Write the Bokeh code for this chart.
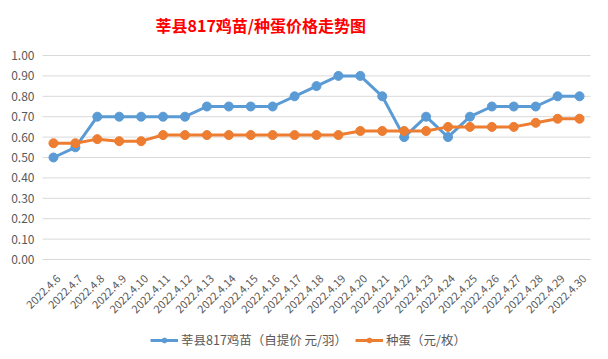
import math
from bokeh.plotting import figure
from bokeh.models import Range1d, Legend, LegendItem, ColumnDataSource
from bokeh.core.properties import value
from bokeh.embed import file_html
from bokeh.resources import INLINE

dates = ["2022.4.6", "2022.4.7", "2022.4.8", "2022.4.9", "2022.4.10", "2022.4.11", "2022.4.12",
         "2022.4.13", "2022.4.14", "2022.4.15", "2022.4.16", "2022.4.17", "2022.4.18", "2022.4.19",
         "2022.4.20", "2022.4.21", "2022.4.22", "2022.4.23", "2022.4.24", "2022.4.25", "2022.4.26",
         "2022.4.27", "2022.4.28", "2022.4.29", "2022.4.30"]
chick = [0.50, 0.55, 0.70, 0.70, 0.70, 0.70, 0.70, 0.75, 0.75, 0.75, 0.75, 0.80, 0.85, 0.90,
         0.90, 0.80, 0.60, 0.70, 0.60, 0.70, 0.75, 0.75, 0.75, 0.80, 0.80]
egg = [0.57, 0.57, 0.59, 0.58, 0.58, 0.61, 0.61, 0.61, 0.61, 0.61, 0.61, 0.61, 0.61, 0.61,
       0.63, 0.63, 0.63, 0.63, 0.65, 0.65, 0.65, 0.65, 0.67, 0.69, 0.69]
y_ticks = [0.0, 0.1, 0.2, 0.3, 0.4, 0.5, 0.6, 0.7, 0.8, 0.9, 1.0]
title_text = "莘县817鸡苗/种蛋价格走势图"
name_chick = "莘县817鸡苗（自提价 元/羽）"
name_egg = "种蛋（元/枚）"

BLUE = "#5B9BD5"
ORANGE = "#ED7D31"
GRAY = "#595959"
GRID = "#D9D9D9"
FONT = "Noto Sans CJK SC"

# ---- layout (pixels in the picture) ----
W, H = 600, 351
ORIGIN = 0
PLOT_L, PLOT_R = 42.0, 590.0       # plot area left/right edge
Y1_PX, Y0_PX = 55.0, 259.0          # picture y of value 1.00 and 0.00
n = len(dates)
step = (PLOT_R - PLOT_L) / n
px_per_unit = Y0_PX - Y1_PX


def sx(px):   # picture x -> data x (category index space)
    return (px - (PLOT_L + step / 2)) / step


def sy(py):   # picture y -> data y
    return (Y0_PX - py) / px_per_unit


idx = list(range(n))

p = figure(x_range=Range1d(sx(ORIGIN), sx(ORIGIN + W)),
           y_range=Range1d(sy(ORIGIN + H), sy(ORIGIN)),
           width=W, height=H, output_backend="svg", toolbar_location=None,
           x_axis_location=None, y_axis_location=None, min_border=0)
p.title.visible = False
p.outline_line_color = None
p.background_fill_color = "white"
p.border_fill_color = "white"
p.xgrid.grid_line_color = None
p.ygrid.grid_line_color = None

# horizontal gridlines (0.00 line doubles as the category axis line)
p.segment(x0=[-0.5] * len(y_ticks), x1=[n - 0.5] * len(y_ticks), y0=y_ticks, y1=y_ticks,
          line_color=GRID, line_width=1)

# value-axis labels
p.text(x=[-0.5] * len(y_ticks), y=y_ticks, text=[f"{v:.2f}" for v in y_ticks],
       text_align="right", text_baseline="middle", x_offset=-8,
       text_color=GRAY, text_font=value(FONT), text_font_size="12px")

# rotated category labels
lab_src = ColumnDataSource(dict(x=idx, y=[sy(Y0_PX + 17)] * n, text=dates))
p.text(x="x", y="y", text="text", source=lab_src, angle=math.pi / 4,
       text_align="right", text_baseline="middle", x_offset=5,
       text_color=GRAY, text_font=value(FONT), text_font_size="11px")

# title
p.text(x=[sx(155)], y=[sy(24)], text=[title_text], text_align="left", text_baseline="middle",
       text_color="#FF0000", text_font=value(FONT), text_font_size="16px",
       text_font_style="bold")

l1 = p.line(idx, chick, line_color=BLUE, line_width=3)
c1 = p.scatter(idx, chick, size=9, fill_color=BLUE, line_color=BLUE)
l2 = p.line(idx, egg, line_color=ORANGE, line_width=3)
c2 = p.scatter(idx, egg, size=9, fill_color=ORANGE, line_color=ORANGE)

legend = Legend(items=[LegendItem(label=name_chick, renderers=[l1, c1]),
                       LegendItem(label=name_egg, renderers=[l2, c2])],
                orientation="horizontal", location=(150 - ORIGIN, ORIGIN + H - 349),
                label_text_font=FONT, label_text_font_size="12.5px", label_text_color=GRAY,
                glyph_width=28, glyph_height=12, spacing=8, padding=2, margin=0,
                border_line_color=None, background_fill_alpha=0, label_standoff=3)
p.add_layout(legend, "center")

open("out.html", "w").write(file_html(p, INLINE))
